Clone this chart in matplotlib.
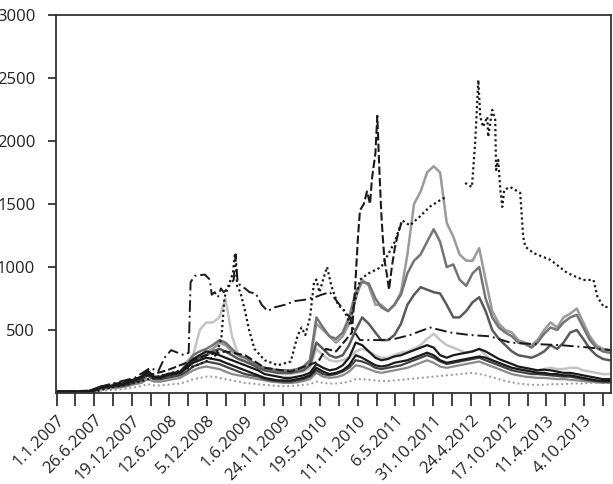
import numpy as np
import pandas as pd
import matplotlib
matplotlib.use("Agg")
import matplotlib.pyplot as plt

plt.rcParams['font.family'] = ['Open Sans', 'DejaVu Sans']

nan = np.nan

# monthly grid for the solid / bundle series (Jan 2007 .. Feb 2014)
months = pd.date_range('2007-01-01', '2014-02-01', freq='MS')

# gray solids (2011 peaks)
d_vals = [10, 10, 10, 10, 12, 15, 30, 50, 45, 50, 60, 70,
          90, 110, 150, 120, 110, 140, 150, 160, 220, 270, 300, 320,
          350, 400, 380, 330, 300, 280, 250, 220, 200, 180, 170, 170,
          170, 180, 200, 250, 550, 500, 450, 400, 450, 550, 750, 900,
          850, 700, 700, 650, 700, 800, 1100, 1500, 1600, 1750, 1800, 1750,
          1350, 1240, 1100, 1050, 1050, 1150, 900, 650, 550, 500, 480, 420,
          400, 380, 420, 500, 560, 520, 600, 630, 670, 560, 450, 380,
          350, 340]
e_vals = [10, 10, 10, 10, 12, 15, 25, 45, 45, 55, 60, 70,
          90, 110, 160, 120, 120, 140, 150, 160, 230, 300, 330, 350,
          380, 420, 400, 350, 300, 280, 250, 220, 200, 190, 180, 180,
          180, 190, 210, 260, 600, 520, 450, 430, 480, 600, 800, 880,
          870, 750, 680, 650, 700, 780, 950, 1050, 1100, 1200, 1300, 1200,
          1000, 1020, 900, 850, 950, 1000, 750, 600, 520, 480, 450, 400,
          390, 360, 400, 470, 520, 500, 560, 600, 620, 520, 420, 360,
          330, 320]
f_vals = [10, 10, 10, 10, 10, 12, 20, 40, 40, 50, 55, 65,
          85, 100, 150, 110, 110, 130, 140, 150, 200, 250, 280, 300,
          330, 350, 330, 300, 270, 250, 230, 200, 180, 170, 160, 160,
          160, 170, 180, 220, 400, 350, 300, 280, 300, 380, 500, 600,
          550, 480, 420, 420, 460, 550, 700, 780, 840, 820, 800, 790,
          700, 600, 600, 650, 720, 760, 650, 500, 430, 380, 330, 300,
          290, 280, 300, 330, 380, 350, 400, 480, 500, 430, 350, 300,
          270, 260]
g_vals = [10, 10, 10, 10, 12, 15, 25, 40, 45, 50, 55, 60,
          80, 100, 140, 110, 110, 130, 150, 160, 250, 300, 500, 560,
          560, 600, 750, 450, 300, 250, 220, 200, 180, 170, 160, 150,
          150, 160, 170, 200, 350, 300, 260, 250, 260, 280, 330, 350,
          330, 300, 280, 280, 300, 320, 330, 350, 380, 430, 470, 420,
          380, 360, 340, 320, 330, 350, 300, 260, 230, 210, 200, 190,
          180, 170, 180, 190, 200, 190, 190, 200, 200, 180, 170, 160,
          150, 150]

# low bundle
h_vals = [10, 10, 10, 10, 10, 15, 35, 55, 55, 65, 75, 90,
          110, 130, 180, 130, 130, 150, 160, 170, 220, 270, 300, 330,
          320, 300, 280, 260, 240, 220, 200, 180, 150, 140, 130, 120,
          120, 130, 140, 160, 230, 200, 180, 190, 220, 280, 400, 380,
          330, 280, 260, 270, 290, 300, 320, 340, 360, 380, 360, 300,
          280, 300, 310, 320, 330, 350, 330, 300, 270, 250, 230, 210,
          200, 190, 180, 185, 180, 170, 160, 160, 150, 140, 130, 120,
          110, 110]
i_vals = [10, 10, 10, 10, 10, 12, 30, 45, 50, 60, 65, 80,
          100, 120, 160, 120, 120, 140, 150, 160, 200, 240, 260, 280,
          270, 260, 240, 220, 200, 180, 160, 140, 120, 110, 100, 100,
          100, 110, 120, 140, 200, 170, 150, 160, 180, 220, 300, 280,
          250, 220, 210, 220, 240, 250, 260, 280, 300, 320, 300, 260,
          240, 250, 260, 270, 280, 290, 280, 260, 240, 220, 200, 190,
          180, 170, 160, 160, 150, 150, 140, 140, 130, 120, 110, 100,
          95, 95]
j_vals = [8, 8, 8, 8, 8, 10, 25, 40, 45, 50, 55, 65,
          85, 100, 140, 110, 110, 120, 130, 140, 170, 210, 230, 250,
          240, 230, 210, 190, 170, 150, 140, 130, 110, 100, 95, 90,
          90, 100, 110, 130, 180, 150, 140, 150, 170, 200, 260, 250,
          230, 200, 190, 200, 210, 220, 240, 260, 280, 300, 280, 250,
          230, 240, 250, 260, 270, 280, 260, 240, 220, 200, 180, 170,
          160, 150, 150, 145, 140, 135, 130, 130, 120, 110, 100, 95,
          90, 90]
k_vals = [5, 5, 5, 5, 5, 8, 20, 35, 35, 40, 45, 55,
          70, 80, 110, 90, 90, 100, 110, 120, 150, 180, 200, 210,
          200, 190, 170, 150, 140, 130, 120, 110, 100, 90, 85, 80,
          80, 85, 95, 110, 160, 130, 120, 125, 140, 170, 220, 210,
          190, 170, 160, 170, 180, 190, 200, 220, 240, 260, 240, 210,
          200, 210, 220, 230, 240, 250, 230, 210, 190, 170, 150, 140,
          130, 125, 120, 120, 115, 110, 110, 105, 100, 95, 90, 85,
          80, 80]
l_vals = [3, 3, 3, 3, 3, 5, 12, 20, 22, 25, 30, 35,
          45, 55, 70, 60, 60, 65, 70, 75, 90, 110, 120, 130,
          130, 120, 110, 100, 90, 80, 75, 70, 65, 60, 55, 55,
          55, 60, 65, 70, 90, 80, 75, 75, 80, 90, 110, 110,
          105, 100, 95, 95, 100, 105, 110, 115, 120, 125, 130, 135,
          140, 145, 150, 155, 160, 150, 140, 125, 110, 95, 85, 75,
          70, 65, 65, 65, 70, 70, 70, 75, 75, 75, 80, 80,
          80, 80]

# black dash-dot series
a_dates = ['2007-01-01', '2007-06-01', '2007-07-15', '2007-08-15', '2007-11-15',
           '2008-01-01', '2008-03-15', '2008-04-20', '2008-05-20', '2008-06-20',
           '2008-07-20', '2008-08-20', '2008-09-10', '2008-09-19', '2008-10-09',
           '2008-11-25', '2008-12-18', '2008-12-27', '2009-01-10', '2009-01-25',
           '2009-02-08', '2009-02-21', '2009-03-06', '2009-03-20', '2009-04-09',
           '2009-04-18', '2009-04-27', '2009-05-12', '2009-06-01', '2009-06-22',
           '2009-07-21', '2009-08-18', '2009-09-15', '2009-10-18', '2009-12-04',
           '2010-01-21', '2010-03-07', '2010-04-24', '2010-05-25', '2010-07-03',
           '2010-08-18', '2010-10-04', '2010-10-28', '2010-11-21', '2011-03-07',
           '2011-05-03', '2011-07-13', '2011-10-15', '2012-01-18', '2012-04-19',
           '2012-07-22', '2012-10-24', '2013-01-27', '2013-06-15', '2013-11-03',
           '2014-02-06']
a_vals = [10, 15, 40, 60, 100, 120, 200, 170, 280, 340,
          320, 300, 320, 880, 930, 940, 900, 780, 800, 760,
          830, 800, 820, 850, 900, 1100, 880, 850, 830, 800,
          790, 700, 650, 680, 700, 730, 740, 760, 780, 800,
          700, 600, 480, 420, 420, 430, 460, 520, 480, 460,
          450, 400, 390, 380, 360, 340]

# black dashed series
b_dates = ['2007-01-01', '2007-07-01', '2007-09-01', '2008-01-01', '2008-06-01',
           '2008-09-15', '2008-12-01', '2009-03-01', '2009-06-01', '2009-09-01',
           '2010-01-01', '2010-05-10', '2010-06-15', '2010-08-01', '2010-09-15',
           '2010-10-14', '2010-10-28', '2010-11-12', '2010-11-21', '2010-12-09',
           '2010-12-24', '2011-01-07', '2011-01-16', '2011-02-01', '2011-02-10',
           '2011-02-19', '2011-02-28', '2011-03-07', '2011-03-16', '2011-03-26',
           '2011-04-06', '2011-04-19', '2011-05-03', '2011-05-16', '2011-06-06']
b_vals = [10, 20, 60, 110, 180, 250, 300, 330, 300, 200,
          170, 250, 350, 330, 420, 480, 800, 1250, 1450, 1500,
          1600, 1500, 1700, 1900, 2200, 1800, 1450, 1250, 1050, 950,
          820, 1000, 1150, 1250, 1370]

# black dotted series
c_dates = ['2007-01-01', '2007-07-01', '2007-09-01', '2008-01-01', '2008-06-01',
           '2008-09-15', '2008-12-01', '2009-01-15', '2009-02-10', '2009-02-25',
           '2009-03-15', '2009-04-05', '2009-04-15', '2009-04-25', '2009-05-10',
           '2009-06-01', '2009-06-20', '2009-07-15', '2009-09-01', '2009-11-01',
           '2010-01-01', '2010-02-01', '2010-02-20', '2010-03-10', '2010-04-01',
           '2010-04-20', '2010-05-01', '2010-05-15', '2010-06-05', '2010-06-20',
           '2010-07-10', '2010-08-10', '2010-09-10', '2010-10-04', '2010-11-21',
           '2011-01-01', '2011-03-01', '2011-05-03', '2011-06-06', '2011-07-13',
           '2011-08-28', '2011-10-15', '2011-12-01', '2012-01-03', '2012-01-04',
           '2012-03-27', '2012-04-28', '2012-05-13', '2012-05-28', '2012-06-06',
           '2012-06-19', '2012-07-09', '2012-07-13', '2012-08-01', '2012-08-15',
           '2012-08-19', '2012-08-29', '2012-09-08', '2012-09-17', '2012-09-26',
           '2012-10-24', '2012-12-10', '2012-12-24', '2013-01-03', '2013-02-10',
           '2013-05-01', '2013-07-18', '2013-10-01', '2013-11-18', '2013-12-07',
           '2014-01-05', '2014-02-07']
c_vals = [5, 10, 40, 80, 150, 200, 250, 300, 430, 760,
          850, 950, 1110, 850, 800, 650, 500, 350, 260, 220,
          250, 450, 520, 460, 600, 880, 900, 800, 920, 1000,
          850, 700, 650, 550, 900, 950, 1000, 1200, 1370, 1330,
          1400, 1480, 1530, 1560, nan, 1667, 1635, 1985, 2484, 2192,
          2112, 2192, 2033, 2247, 2168, 1770, 1850, 1612, 1477, 1612,
          1635, 1588, 1239, 1161, 1111, 1056, 953, 897, 897, 762,
          683, 683]

yticks = [500, 1000, 1500, 2000, 2500, 3000]

fig = plt.figure(figsize=(6.13, 4.84), dpi=100)
ax = fig.add_axes([56 / 613, 1 - 393 / 484, 555 / 613, 378 / 484])

# grays first, blacks on top
ax.plot(months, g_vals, color='#c4c4c4', lw=1.8)
ax.plot(months, d_vals, color='#9a9a9a', lw=1.8)
ax.plot(months, e_vals, color='#747474', lw=1.8)
ax.plot(months, f_vals, color='#5a5a5a', lw=1.8)
ax.plot(months, k_vals, color='#8a8a8a', lw=1.6)
ax.plot(months, l_vals, color='#9a9a9a', lw=1.4, ls=(0, (1, 1.5)))
ax.plot(months, j_vals, color='#444444', lw=1.6)
ax.plot(months, i_vals, color='#1a1a1a', lw=1.6)
ax.plot(months, h_vals, color='#1a1a1a', lw=1.6)
ax.plot(pd.to_datetime(c_dates), c_vals, color='#1a1a1a', lw=1.6, ls=(0, (1, 1.3)))
ax.plot(pd.to_datetime(b_dates), b_vals, color='#1a1a1a', lw=1.5, ls=(0, (4, 1.5)))
ax.plot(pd.to_datetime(a_dates), a_vals, color='#1a1a1a', lw=1.4, ls=(0, (6, 2, 1, 2)))

ax.set_xlim(pd.Timestamp('2006-12-29'), pd.Timestamp('2014-02-08'))
ax.set_ylim(0, 3000)
ax.set_yticks(yticks)
ax.set_yticklabels([str(v) for v in yticks], fontsize=12, color='#222222')

tick_dates = pd.bdate_range('2007-01-01', '2014-02-07')[::63]
tick_labels = [f"{d.day}.{d.month}.{d.year}" if i % 2 == 0 else ''
               for i, d in enumerate(tick_dates)]
ax.set_xticks(tick_dates)
ax.set_xticklabels(tick_labels, rotation=45, ha='right', va='top',
                   rotation_mode='anchor', fontsize=12, color='#222222')

for s in ax.spines.values():
    s.set_color('#333333')
    s.set_linewidth(1.3)
ax.tick_params(axis='y', length=6, width=1.3, pad=9, color='#333333')
ax.tick_params(axis='x', length=9, width=1.3, pad=5, color='#333333')

fig.savefig('out.png', dpi=100)
